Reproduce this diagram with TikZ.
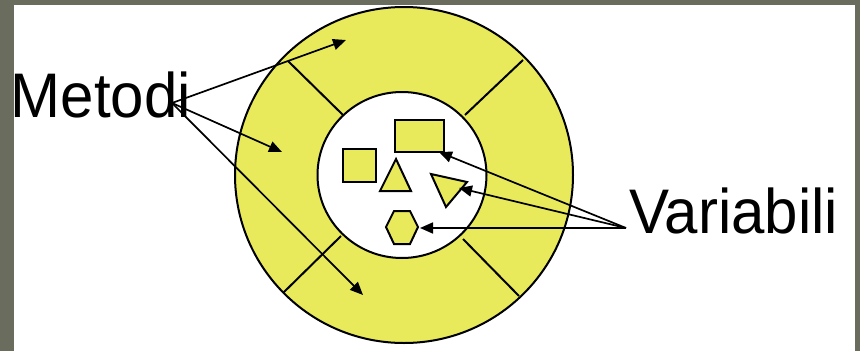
\documentclass[tikz,border=0pt]{standalone}
\usepackage{fontspec}
\setmainfont{Liberation Sans}
\usetikzlibrary{arrows.meta}
\definecolor{frame}{RGB}{106,108,94}
\definecolor{yel}{RGB}{232,234,92}
\tikzset{
  outline/.style={draw=black, line width=2pt},
  part/.style={outline, fill=yel},
  ptr/.style={draw=black, line width=1.7pt, -{Triangle[length=13pt,width=11pt]}},
  label/.style={inner sep=0pt, anchor=base west, yscale=1.05, font=\fontsize{60}{60}\selectfont}
}
\begin{document}
\begin{tikzpicture}[x=1pt,y=-1pt]
  \fill[frame] (0,0) rectangle (860,351);
  \fill[white] (14,5) rectangle (855,351);
  \useasboundingbox (0,0) rectangle (860,351);
  % rings
  \path[part] (404,175) ellipse [x radius=169, y radius=168];
  \path[outline, fill=white] (402,175) ellipse [x radius=84.5, y radius=83];
  % dividers
  \draw[outline] (288,61) -- (343,115);
  \draw[outline] (523,60) -- (465,115);
  \draw[outline] (283,293) -- (341,236);
  \draw[outline] (519,296) -- (463,239);
  % variables
  \path[part] (395,120) rectangle (444,152);
  \path[part] (343,149) rectangle (376,182);
  \path[part] (396,159) -- (411,191) -- (380,191) -- cycle;
  \path[part] (431,174) -- (467,182) -- (446,207) -- cycle;
  \path[part] (386,227) -- (394,211) -- (410,211) -- (418,227) -- (410,244) -- (394,244) -- cycle;
  % labels
  \node[label] (metodi) at (10.5,117) {Metodi};
  \node[label] (variabili) at (629,233) {Variabili};
  \coordinate (m) at (172,103);
  \coordinate (v) at (626,228);
  \coordinate (m1) at (346,40);
  \coordinate (m2) at (282,152);
  \coordinate (m3) at (363,295);
  \coordinate (v1) at (439,152);
  \coordinate (v2) at (459,188);
  \coordinate (v3) at (420,228);
  \draw[ptr] (m) -- (m1);
  \draw[ptr] (m) -- (m2);
  \draw[ptr] (m) -- (m3);
  \draw[ptr] (v) -- (v1);
  \draw[ptr] (v) -- (v2);
  \draw[ptr] (v) -- (v3);
\end{tikzpicture}
\end{document}
